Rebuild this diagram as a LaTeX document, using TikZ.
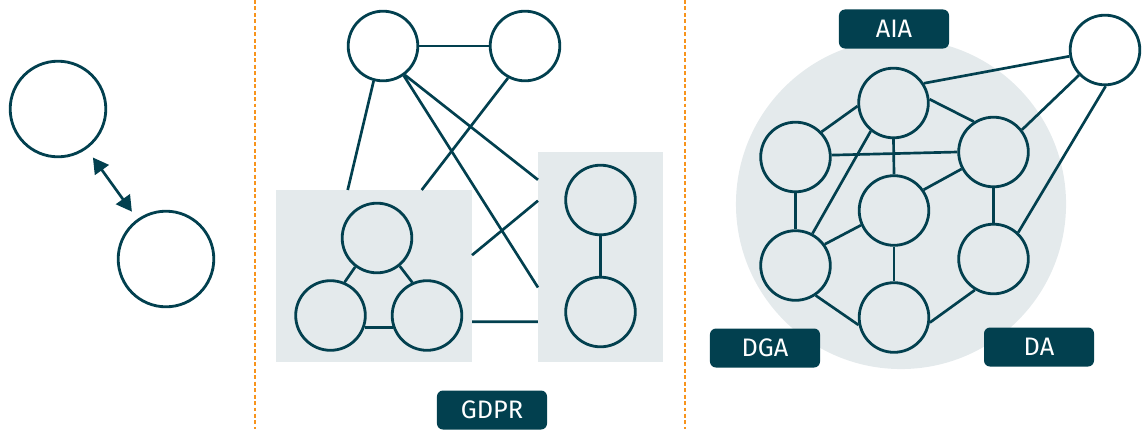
\documentclass[tikz,border=0pt]{standalone}
\usepackage{fontspec}
\setsansfont{Fira Sans}
\usetikzlibrary{arrows.meta}
\definecolor{darkteal}{HTML}{02404F}
\definecolor{palegray}{HTML}{E4EAEC}
\definecolor{dashorange}{HTML}{F7941D}

\begin{document}
\begin{tikzpicture}[x=0.025cm,y=-0.025cm,
  ent/.style={circle,draw=darkteal,line width=2pt,minimum size=1.74cm,inner sep=0pt},
  bigent/.style={ent,minimum size=2.39cm},
  link/.style={darkteal,line width=1.9pt},
  zone/.style={fill=palegray,inner sep=0pt,outer sep=0pt},
  tag/.style={fill=darkteal,text=white,rounded corners=0.15cm,minimum width=2.75cm,minimum height=0.975cm,inner sep=0pt,font=\sffamily\fontsize{18}{18}\selectfont},
  sep/.style={dashorange,line width=1pt,dash pattern=on 2.8pt off 1.8pt}]
\useasboundingbox (0,0) rectangle (1143,429);
\draw[sep] (255,0) -- (255,429);
\draw[sep] (685,0) -- (685,429);

% two parties
\node[bigent] (p) at (58,109) {};
\node[bigent] (q) at (166,259) {};
\draw[link,{Triangle[length=11pt,width=12pt]}-{Triangle[length=11pt,width=12pt]},shorten <=7.5pt,shorten >=6.5pt] (p) -- (q);

% GDPR
\node[zone,minimum width=4.9cm,minimum height=4.3cm] (boxL) at (374,276) {};
\node[zone,minimum width=3.125cm,minimum height=5.25cm] (boxR) at (600.5,257) {};
\node[ent] (top1) at (383,46) {};
\node[ent] (top2) at (525,46) {};
\node[ent] (t) at (377,238) {};
\node[ent] (l) at (330.5,315.5) {};
\node[ent] (r) at (427,315.5) {};
\node[ent] (u) at (600.5,200) {};
\node[ent] (d) at (600.5,312) {};
\draw[link] (top1.east) -- (top2.west);
\draw[link] (top1.-105) -- (boxL.107);
\draw[link] (top2.-118) -- (boxL.61);
\draw[link] (top1.-53) -- (boxR.129);
\draw[link] (top1.-55) -- (boxR.206);
\draw[link] (boxL.12) -- (boxR.138);
\draw[link] (boxL.335) -- (boxR.226);
\draw[link] (t.233) -- (l.67);
\draw[link] (t.-51) -- (r.114);
\draw[link] (l.-19) -- (r.199);
\draw[link] (u.south) -- (d.north);
\node[tag] (gdpr) at (492,410) {GDPR};

% AIA / DGA / DA
\node[circle,fill=palegray,minimum size=8.25cm,inner sep=0pt] (cloud) at (901,204) {};
\node[ent] (hub) at (893.5,103) {};
\node[ent] (w) at (795.5,157) {};
\node[ent] (e) at (993.5,152) {};
\node[ent] (mid) at (894,210.5) {};
\node[ent] (sw) at (795.5,265.5) {};
\node[ent] (se) at (993.5,259) {};
\node[ent] (s) at (894,317.5) {};
\node[ent] (out) at (1105,50) {};
\draw[link] (hub.33) -- (out.190);
\draw[link] (hub.6) -- (e.123);
\draw[link] (hub.185) -- (w.44);
\draw[link] (hub.south) -- (mid.north);
\draw[link] (hub.231) -- (sw.62);
\draw[link] (w.3) -- (e.180);
\draw[link] (w.south) -- (sw.north);
\draw[link] (e.208) -- (mid.35);
\draw[link] (e.38) -- (out.224);
\draw[link] (e.south) -- (se.north);
\draw[link] (se.47) -- (out.271);
\draw[link] (mid.204) -- (sw.36);
\draw[link] (mid.south) -- (s.north);
\draw[link] (sw.-56) -- (s.192);
\draw[link] (se.239) -- (s.-8);
\node[tag] (aia) at (894,29) {AIA};
\node[tag] (dga) at (765,348) {DGA};
\node[tag] (da) at (1039,347) {DA};
\end{tikzpicture}
\end{document}
